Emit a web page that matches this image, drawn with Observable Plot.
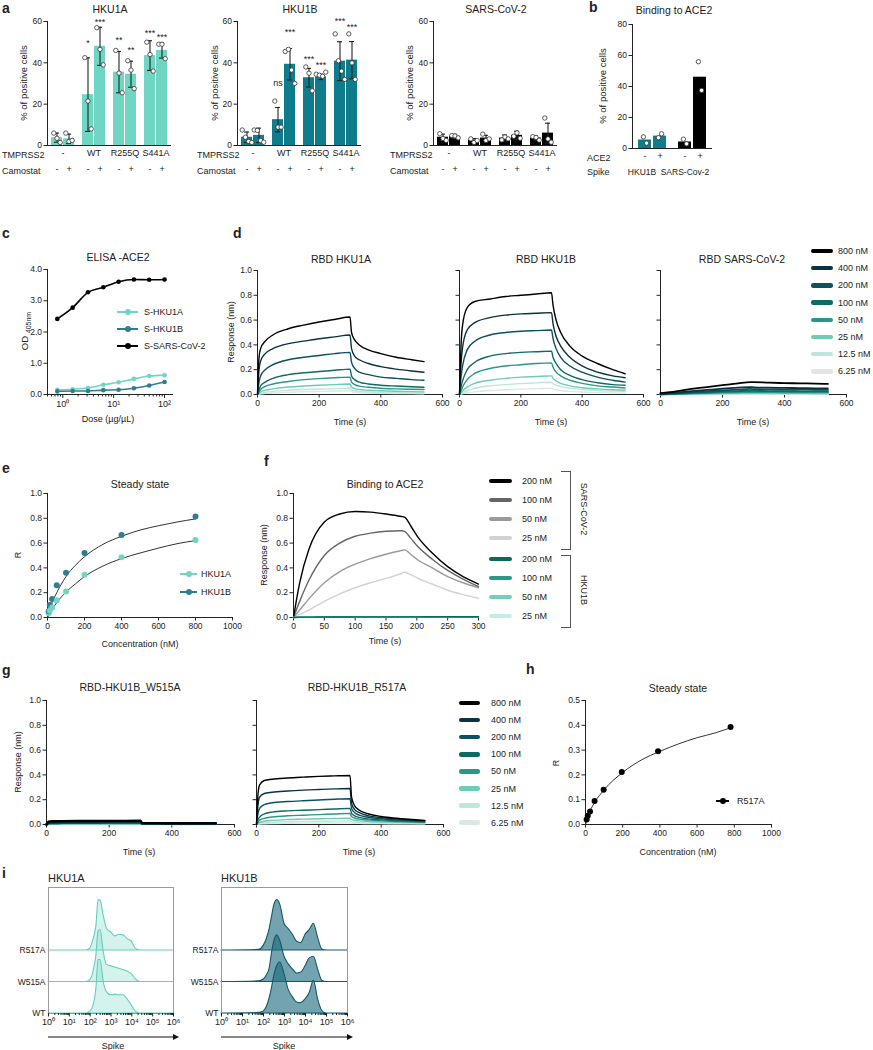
<!DOCTYPE html>
<html>
<head>
<meta charset="utf-8">
<script src="https://cdn.jsdelivr.net/npm/d3@7"></script>
<script src="https://cdn.jsdelivr.net/npm/@observablehq/plot@0.6"></script>
<style>
  html, body { margin: 0; padding: 0; background: #fff; }
  #root { position: relative; width: 873px; height: 1050px; overflow: hidden; font-family: "Liberation Sans", Arial, Helvetica, sans-serif; color: #222; }
  .t { position: absolute; white-space: nowrap; line-height: 1; }
  .sw { position: absolute; }
</style>
</head>
<body>
<div id="root"></div>
<script>
// ================= DATA =================
// ---- panel a ----
const camostat = ["-", "+"];
const tmprss2 = ["-", "WT", "R255Q", "S441A"];
const hku1aMean = [3.8, 3.2, 24.6, 48, 35.5, 34.5, 43.5, 46];
const hku1aSD = [2.2, 2.3, 17.8, 9.2, 10, 6.3, 7.2, 3.7];
const hku1aPts = [[6, 3.5, 1.5], [6, 2, 2.5], [42.5, 21.5, 8], [57, 46.5, 39], [46, 35, 25.5], [41, 36.5, 27.5], [50, 44, 36], [49, 49, 42]];
const hku1aStars = ["", "", "*", "***", "**", "**", "***", "***"];
const hku1aStarY = [0, 0, 49.5, 59.5, 51, 46, 54.5, 52.5];

const hku1bMean = [4, 4.9, 12.5, 39.3, 32.8, 33.2, 40.8, 41.3];
const hku1bSD = [2.5, 3.5, 5.9, 7.6, 4.5, 1.3, 9.4, 9];
const hku1bPts = [[7.5, 4, 2, 1.5], [7.5, 7.3, 2.4, 1.6], [21.5, 8.9, 8.9], [45.5, 46.5, 36.5, 30], [38, 35, 26.5], [34.5, 34, 33.5, 35.5], [54, 41, 36, 32], [54, 40, 32]];
const hku1bStars = ["", "", "ns", "***", "***", "***", "***", "***"];
const hku1bStarY = [0, 0, 30, 55, 41.7, 38.8, 60, 57.4];

const sarsMean = [4, 4.4, 2.4, 3.6, 3.6, 4.9, 3.6, 6];
const sarsSD = [1.5, 1, 1, 1.3, 1.5, 2, 1, 4.8];
const sarsPts = [[5.7, 3.4, 2.5], [4.8, 4.6, 3.7], [3.2, 1.5, 2.4], [5.5, 2.4, 3.2], [2.7, 4.1, 3.2], [4.5, 6.1, 3.5], [4.3, 3.9, 2.6], [13.3, 3.2, 1.6]];

// ---- panel b ----
const ace2 = ["-", "+"];
const spike = ["HKU1B", "SARS-Cov-2"];
const bMean = [5.5, 8, 4.2, 46];
const bPts = [[7.5, 3.5], [7, 9.5], [6, 3], [56, 37.5]];

// ---- panel c ----
const doses = [0.78, 1.56, 3.125, 6.25, 12.5, 25, 50, 100];
const odHKU1A = [0.15, 0.17, 0.21, 0.31, 0.39, 0.5, 0.59, 0.62];
const odHKU1B = [0.1, 0.11, 0.11, 0.14, 0.15, 0.2, 0.29, 0.4];
const odSARS = [2.42, 2.78, 3.27, 3.43, 3.61, 3.68, 3.67, 3.68];
const cNames = ["S-HKU1A", "S-HKU1B", "S-SARS-CoV-2"];

// ---- kinetics (d, g) ----
const concLabels = ["800 nM", "400 nM", "200 nM", "100 nM", "50 nM", "25 nM", "12.5 nM", "6.25 nM"];
const tKin = [0, 5, 10, 25, 50, 100, 150, 200, 250, 300, 305, 315, 330, 360, 400, 450, 500, 540];
const dHKU1A = [
  [0, 0.3, 0.37, 0.43, 0.48, 0.53, 0.56, 0.585, 0.605, 0.625, 0.5, 0.44, 0.4, 0.36, 0.33, 0.3, 0.28, 0.265],
  [0, 0.2, 0.27, 0.33, 0.37, 0.41, 0.43, 0.45, 0.465, 0.48, 0.37, 0.31, 0.28, 0.25, 0.225, 0.205, 0.19, 0.18],
  [0, 0.1, 0.15, 0.2, 0.24, 0.28, 0.3, 0.315, 0.33, 0.34, 0.26, 0.21, 0.18, 0.16, 0.14, 0.13, 0.12, 0.115],
  [0, 0.04, 0.07, 0.1, 0.13, 0.16, 0.175, 0.185, 0.195, 0.205, 0.15, 0.12, 0.1, 0.085, 0.075, 0.068, 0.062, 0.058],
  [0, 0.02, 0.04, 0.065, 0.085, 0.105, 0.12, 0.128, 0.135, 0.14, 0.1, 0.08, 0.068, 0.058, 0.05, 0.045, 0.042, 0.04],
  [0, 0.01, 0.02, 0.035, 0.045, 0.06, 0.068, 0.074, 0.08, 0.085, 0.06, 0.048, 0.04, 0.034, 0.03, 0.026, 0.023, 0.021],
  [0, 0.005, 0.01, 0.018, 0.025, 0.034, 0.04, 0.044, 0.047, 0.05, 0.036, 0.03, 0.025, 0.021, 0.018, 0.015, 0.013, 0.012],
  [0, 0.002, 0.005, 0.009, 0.013, 0.018, 0.022, 0.025, 0.028, 0.03, 0.022, 0.018, 0.015, 0.012, 0.01, 0.008, 0.007, 0.006]
];
const dHKU1B = [
  [0, 0.4, 0.56, 0.7, 0.75, 0.77, 0.79, 0.8, 0.81, 0.82, 0.72, 0.6, 0.5, 0.39, 0.31, 0.25, 0.2, 0.167],
  [0, 0.25, 0.38, 0.52, 0.58, 0.62, 0.64, 0.65, 0.655, 0.66, 0.57, 0.47, 0.39, 0.3, 0.23, 0.18, 0.15, 0.135],
  [0, 0.14, 0.23, 0.36, 0.43, 0.48, 0.5, 0.51, 0.515, 0.52, 0.45, 0.37, 0.3, 0.23, 0.18, 0.14, 0.115, 0.1],
  [0, 0.06, 0.11, 0.2, 0.26, 0.31, 0.33, 0.34, 0.345, 0.35, 0.3, 0.25, 0.2, 0.155, 0.12, 0.095, 0.08, 0.075],
  [0, 0.03, 0.06, 0.12, 0.17, 0.21, 0.23, 0.24, 0.25, 0.255, 0.22, 0.18, 0.15, 0.115, 0.09, 0.07, 0.06, 0.052],
  [0, 0.015, 0.03, 0.06, 0.09, 0.115, 0.13, 0.14, 0.145, 0.15, 0.13, 0.11, 0.09, 0.07, 0.055, 0.045, 0.038, 0.034],
  [0, 0.007, 0.015, 0.03, 0.05, 0.07, 0.08, 0.088, 0.094, 0.1, 0.087, 0.075, 0.063, 0.05, 0.04, 0.032, 0.027, 0.024],
  [0, 0.003, 0.007, 0.014, 0.022, 0.032, 0.038, 0.043, 0.047, 0.05, 0.044, 0.038, 0.032, 0.025, 0.02, 0.016, 0.013, 0.011]
];
const tSars = [0, 50, 100, 150, 200, 250, 290, 300, 350, 400, 450, 500, 540];
const dSARS = [
  [0.01, 0.025, 0.045, 0.06, 0.075, 0.09, 0.1, 0.1, 0.095, 0.092, 0.09, 0.088, 0.085],
  [0.005, 0.015, 0.027, 0.037, 0.047, 0.055, 0.06, 0.058, 0.055, 0.053, 0.052, 0.05, 0.05],
  [0.003, 0.01, 0.018, 0.026, 0.033, 0.04, 0.045, 0.043, 0.041, 0.04, 0.039, 0.038, 0.037],
  [0.002, 0.007, 0.013, 0.018, 0.023, 0.027, 0.03, 0.029, 0.028, 0.027, 0.026, 0.026, 0.025],
  [0.001, 0.005, 0.009, 0.012, 0.015, 0.018, 0.02, 0.019, 0.019, 0.018, 0.018, 0.017, 0.017],
  [0, 0.003, 0.005, 0.007, 0.009, 0.011, 0.012, 0.012, 0.011, 0.011, 0.011, 0.01, 0.01],
  [0, 0.002, 0.003, 0.004, 0.005, 0.006, 0.007, 0.007, 0.006, 0.006, 0.006, 0.006, 0.006],
  [0, 0.001, 0.002, 0.002, 0.003, 0.003, 0.004, 0.004, 0.003, 0.003, 0.003, 0.003, 0.003]
];
const gW515A = [
  [0, 0.02, 0.025, 0.026, 0.027, 0.028, 0.028, 0.029, 0.029, 0.03, 0.012, 0.011, 0.011, 0.011, 0.01, 0.01, 0.01, 0.01],
  [0, 0.012, 0.016, 0.018, 0.019, 0.02, 0.02, 0.021, 0.021, 0.022, 0.01, 0.01, 0.01, 0.01, 0.009, 0.009, 0.009, 0.009],
  [0, 0.01, 0.013, 0.015, 0.016, 0.017, 0.017, 0.018, 0.018, 0.018, 0.009, 0.009, 0.009, 0.009, 0.008, 0.008, 0.008, 0.008],
  [0, 0.008, 0.011, 0.012, 0.013, 0.014, 0.014, 0.015, 0.015, 0.015, 0.008, 0.008, 0.008, 0.008, 0.007, 0.007, 0.007, 0.007],
  [0, 0.006, 0.009, 0.01, 0.011, 0.012, 0.012, 0.012, 0.012, 0.012, 0.007, 0.007, 0.007, 0.007, 0.006, 0.006, 0.006, 0.006],
  [0, 0.005, 0.007, 0.008, 0.009, 0.01, 0.01, 0.01, 0.01, 0.01, 0.006, 0.006, 0.006, 0.006, 0.005, 0.005, 0.005, 0.005],
  [0, 0.004, 0.005, 0.006, 0.007, 0.008, 0.008, 0.008, 0.008, 0.008, 0.005, 0.005, 0.005, 0.005, 0.004, 0.004, 0.004, 0.004],
  [0, 0.003, 0.004, 0.005, 0.005, 0.006, 0.006, 0.006, 0.006, 0.006, 0.004, 0.004, 0.004, 0.004, 0.003, 0.003, 0.003, 0.003]
];
const gR517A = [
  [0, 0.25, 0.32, 0.355, 0.365, 0.375, 0.382, 0.388, 0.392, 0.395, 0.22, 0.15, 0.115, 0.085, 0.065, 0.05, 0.04, 0.033],
  [0, 0.16, 0.22, 0.25, 0.26, 0.27, 0.277, 0.282, 0.287, 0.29, 0.17, 0.12, 0.095, 0.07, 0.055, 0.043, 0.035, 0.03],
  [0, 0.09, 0.13, 0.16, 0.175, 0.185, 0.192, 0.198, 0.204, 0.208, 0.13, 0.095, 0.075, 0.058, 0.046, 0.037, 0.031, 0.027],
  [0, 0.04, 0.06, 0.085, 0.1, 0.11, 0.115, 0.12, 0.125, 0.13, 0.09, 0.07, 0.057, 0.045, 0.037, 0.03, 0.025, 0.022],
  [0, 0.02, 0.035, 0.05, 0.06, 0.07, 0.075, 0.08, 0.085, 0.09, 0.065, 0.052, 0.043, 0.035, 0.029, 0.024, 0.02, 0.018],
  [0, 0.01, 0.017, 0.026, 0.033, 0.04, 0.043, 0.046, 0.048, 0.05, 0.04, 0.034, 0.029, 0.024, 0.02, 0.017, 0.015, 0.013],
  [0, 0.005, 0.009, 0.014, 0.018, 0.022, 0.024, 0.026, 0.027, 0.028, 0.023, 0.02, 0.017, 0.015, 0.012, 0.01, 0.009, 0.008],
  [0, 0.002, 0.004, 0.006, 0.008, 0.01, 0.011, 0.012, 0.012, 0.013, 0.011, 0.01, 0.009, 0.008, 0.007, 0.006, 0.005, 0.005]
];

// ---- panel e ----
const eConc = [6.25, 12.5, 25, 50, 100, 200, 400, 800];
const eHKU1A = [0.035, 0.055, 0.08, 0.14, 0.21, 0.345, 0.485, 0.625];
const eHKU1B = [0.05, 0.1, 0.15, 0.26, 0.36, 0.52, 0.665, 0.815];
const eFitX = [0, 25, 50, 100, 150, 200, 300, 400, 500, 600, 700, 800];
const eFitA = [0, 0.065, 0.12, 0.205, 0.27, 0.33, 0.415, 0.475, 0.52, 0.56, 0.595, 0.62];
const eFitB = [0, 0.12, 0.2, 0.33, 0.42, 0.49, 0.59, 0.655, 0.705, 0.74, 0.77, 0.795];

// ---- panel f ----
const fLabels = ["200 nM", "100 nM", "50 nM", "25 nM"];
const tF = [0, 10, 25, 50, 75, 100, 125, 150, 175, 180, 190, 200, 225, 250, 275, 300];
const fSARS = [
  [0, 0.28, 0.55, 0.77, 0.835, 0.855, 0.85, 0.835, 0.815, 0.81, 0.74, 0.66, 0.52, 0.41, 0.33, 0.27],
  [0, 0.13, 0.3, 0.5, 0.6, 0.655, 0.68, 0.695, 0.7, 0.695, 0.64, 0.58, 0.47, 0.38, 0.31, 0.25],
  [0, 0.06, 0.15, 0.28, 0.37, 0.43, 0.475, 0.51, 0.54, 0.545, 0.51, 0.47, 0.4, 0.33, 0.28, 0.24],
  [0, 0.025, 0.06, 0.13, 0.19, 0.24, 0.28, 0.315, 0.355, 0.365, 0.345, 0.32, 0.27, 0.22, 0.185, 0.155]
];
const fHKU1B = [
  [0, 0.003, 0.003, 0.004, 0.004, 0.005, 0.005, 0.005, 0.005, 0.005, 0.005, 0.005, 0.006, 0.006, 0.006, 0.006],
  [0, 0.002, 0.003, 0.003, 0.004, 0.004, 0.004, 0.004, 0.004, 0.004, 0.004, 0.004, 0.005, 0.005, 0.005, 0.005],
  [0, 0.002, 0.002, 0.003, 0.003, 0.003, 0.003, 0.003, 0.003, 0.003, 0.003, 0.003, 0.004, 0.004, 0.004, 0.004],
  [0, 0.001, 0.002, 0.002, 0.002, 0.002, 0.002, 0.002, 0.002, 0.002, 0.002, 0.002, 0.003, 0.003, 0.003, 0.003]
];

// ---- panel h ----
const hConc = [6.1, 12.2, 24.4, 48.8, 97.5, 195, 390, 780];
const hR517A = [0.02, 0.035, 0.052, 0.095, 0.14, 0.212, 0.295, 0.393];
const hFitX = [0, 25, 50, 100, 200, 300, 400, 500, 600, 700, 780];
const hFitY = [0, 0.055, 0.09, 0.14, 0.21, 0.26, 0.295, 0.325, 0.35, 0.37, 0.39];

// ---- panel i (log10 Spike grid, ridge heights in row units) ----
const flowLog = [0, 1.8, 2.0, 2.15, 2.3, 2.4, 2.5, 2.65, 2.8, 3.0, 3.2, 3.4, 3.6, 3.8, 4.0, 4.2, 4.4, 4.6, 4.8, 5.0, 6.0];
const flowSamples = ["WT", "W515A", "R517A"];
const iHKU1A = {
  WT:    [0, 0, 0.06, 0.22, 0.8, 1.7, 1.7, 1.0, 0.68, 0.58, 0.6, 0.58, 0.58, 0.45, 0.25, 0.05, 0, 0, 0, 0, 0],
  W515A: [0, 0, 0.06, 0.3, 0.85, 1.6, 1.65, 0.95, 0.55, 0.5, 0.46, 0.42, 0.38, 0.33, 0.25, 0.08, 0, 0, 0, 0, 0],
  R517A: [0, 0, 0.06, 0.33, 0.78, 1.6, 1.58, 1.1, 0.7, 0.58, 0.45, 0.5, 0.48, 0.36, 0.28, 0.05, 0, 0, 0, 0, 0]
};
const iHKU1B = {
  WT:    [0, 0.02, 0.06, 0.2, 0.5, 0.8, 1.15, 1.5, 1.62, 1.25, 0.75, 0.52, 0.35, 0.33, 0.45, 0.65, 1.05, 0.45, 0.08, 0, 0],
  W515A: [0, 0.02, 0.07, 0.2, 0.45, 0.9, 1.25, 1.48, 1.3, 0.8, 0.56, 0.4, 0.27, 0.3, 0.5, 0.75, 0.8, 0.4, 0.04, 0, 0],
  R517A: [0, 0.02, 0.14, 0.35, 0.7, 1.05, 1.4, 1.6, 1.45, 0.85, 0.68, 0.5, 0.28, 0.24, 0.5, 0.65, 0.85, 0.4, 0.03, 0, 0]
};

// ---- colours ----
const cHKU1A = "#6fd6c4";
const cHKU1B = "#0f7c8c";
const cHKU1Bline = "#2f7d91";
const concColors = ["#000000", "#09343f", "#0c5061", "#116a62", "#2b9787", "#6fcab6", "#bde6dc", "#dde7e3"];
const fSarsColors = ["#000000", "#666666", "#9a9a9a", "#d2d2d2"];
const fHkuColors = ["#0b6a5e", "#2a998a", "#74ceba", "#c4ece2"];

// ================= HELPERS =================
const root = document.getElementById("root");
const FONT = '"Liberation Sans", Arial, Helvetica, sans-serif';
const INK = "#222";
const sup = ["\u2070", "\u00b9", "\u00b2", "\u00b3", "\u2074", "\u2075", "\u2076"];
const intFmt = d3.format("d");

function text(str, x, y, o = {}) {
  const d = document.createElement("div");
  d.className = "t";
  if (o.html) d.innerHTML = str; else d.textContent = str;
  d.style.left = x + "px";
  d.style.top = y + "px";
  d.style.fontSize = (o.size || 9) + "px";
  if (o.bold) d.style.fontWeight = "bold";
  const a = o.anchor || "middle";
  const tx = a === "start" ? "0" : a === "end" ? "-100%" : "-50%";
  d.style.transform = `translate(${tx}, -50%)` + (o.rotate ? ` rotate(${o.rotate}deg)` : "");
  root.appendChild(d);
}
function box(x, y, w, h, css) {
  const d = document.createElement("div");
  d.className = "sw";
  d.style.left = x + "px"; d.style.top = y + "px";
  d.style.width = w + "px"; d.style.height = h + "px";
  Object.assign(d.style, css);
  root.appendChild(d);
}
function plotAt(x0, y0, x1, y1, m, opts) {
  const [ml, mt, mr, mb] = m;
  const svg = Plot.plot({
    width: ml + (x1 - x0) + mr,
    height: mt + (y1 - y0) + mb,
    marginLeft: ml, marginTop: mt, marginRight: mr, marginBottom: mb,
    style: {fontFamily: FONT, fontSize: "8.5px", color: INK, background: "transparent", overflow: "visible"},
    ...opts
  });
  svg.style.position = "absolute";
  svg.style.left = (x0 - ml) + "px";
  svg.style.top = (y0 - mt) + "px";
  root.appendChild(svg);
  return svg;
}

// ---------- bar panels (a, b) ----------
function barPanel(cfg) {
  const {x0, x1, y0, y1, groups, subs, mean, sd, pts, fill, ymax, yticks, stars, starY,
         subPadInner, subPadOuter, subDy, groupDy} = cfg;
  const rows = mean.map((m, i) => ({
    g: groups[Math.floor(i / 2)], c: subs[i % 2], mean: m,
    sd: sd ? sd[i] : 0, star: stars ? stars[i] : "", starY: starY ? starY[i] : 0,
    fill: typeof fill === "function" ? fill(i) : fill
  }));
  const points = [];
  pts.forEach((arr, i) => arr.forEach((v, k) => points.push({
    g: rows[i].g, c: rows[i].c, v, off: (k - (arr.length - 1) / 2) * 3.2
  })));
  const offs = [...new Set(points.map(p => p.off))];
  const marks = [
    Plot.barY(rows, {fx: "g", x: "c", y: "mean", fill: "fill"}),
  ];
  if (sd) {
    marks.push(
      Plot.ruleX(rows, {fx: "g", x: "c", y1: d => Math.max(0, d.mean - d.sd), y2: d => d.mean + d.sd, stroke: INK, strokeWidth: 1.1}),
      Plot.tickY(rows, {fx: "g", x: "c", y: d => d.mean + d.sd, stroke: INK, strokeWidth: 1.1, insetLeft: 3, insetRight: 3}),
      Plot.tickY(rows.filter(d => d.mean - d.sd > 0), {fx: "g", x: "c", y: d => d.mean - d.sd, stroke: INK, strokeWidth: 1.1, insetLeft: 3, insetRight: 3})
    );
  }
  offs.forEach(off => marks.push(Plot.dot(points.filter(p => p.off === off),
    {fx: "g", x: "c", y: "v", dx: off, r: 2.2, fill: "white", stroke: "#333", strokeWidth: 0.8})));
  if (stars) marks.push(Plot.text(rows.filter(d => d.star), {fx: "g", x: "c", y: "starY", text: "star", fontSize: 9, fill: INK}));
  marks.push(Plot.ruleY([0], {stroke: INK}));
  marks.push(Plot.text(rows, {fx: "g", x: "c", text: "c", frameAnchor: "bottom", dy: subDy, fontSize: 9, fill: INK}));
  if (groupDy != null) marks.push(Plot.text(groups, {fx: d => d, text: d => d, frameAnchor: "bottom", dy: groupDy, fontSize: 9, fill: INK}));
  return plotAt(x0, y0, x1, y1, [24, 6, 6, 34], {
    fx: {domain: groups, padding: 0, axis: null, label: null},
    x: {domain: subs, paddingInner: subPadInner, paddingOuter: subPadOuter, axis: null, label: null},
    y: {domain: [0, ymax], ticks: yticks, tickSize: 3.5, tickPadding: 2, line: true, label: null},
    marks
  });
}

// ---------- kinetic panels (d, g) ----------
function kinetic(x0, x1, y0, y1, times, series, colors, showY, xMax, xticks, sw = 1.4) {
  const rows = [];
  series.forEach((vals, j) => vals.forEach((v, i) => rows.push({t: times[i], v, s: j})));
  const order = series.map((_, j) => j).reverse();
  return plotAt(x0, y0, x1, y1, [26, 6, 8, 22], {
    x: {domain: [0, xMax], ticks: xticks, tickSize: 3.5, tickPadding: 2, line: true, label: null},
    y: {domain: [0, 1], ticks: [0, 0.2, 0.4, 0.6, 0.8, 1], tickFormat: showY ? d3.format(".1f") : () => "", tickSize: 3.5, tickPadding: 2, line: true, label: null},
    marks: order.map(j => Plot.line(rows.filter(r => r.s === j), {x: "t", y: "v", stroke: colors[j], strokeWidth: sw, curve: "monotone-x"}))
  });
}
function legendLines(labels, colors, xs, xe, tx, ys, thick) {
  labels.forEach((lab, k) => {
    box(xs, ys[k] - thick / 2, xe - xs, thick, {background: colors[k], borderRadius: (thick / 2) + "px"});
    text(lab, tx, ys[k], {anchor: "start", size: 9});
  });
}
function legendDots(labels, colors, xs, xe, tx, ys) {
  labels.forEach((lab, k) => {
    box(xs, ys[k] - 1, xe - xs, 2, {background: colors[k]});
    const cx = (xs + xe) / 2;
    box(cx - 3, ys[k] - 3, 6, 6, {background: colors[k], borderRadius: "3px"});
    text(lab, tx, ys[k], {anchor: "start", size: 9});
  });
}

// ================= PANEL LETTERS =================
[["a", 2, 8], ["b", 589, 7], ["c", 2, 233], ["d", 233, 233], ["e", 2, 468], ["f", 264, 461], ["g", 2, 670], ["h", 526, 669], ["i", 2, 873]]
  .forEach(([s, x, y]) => text(s, x, y, {anchor: "start", size: 14, bold: true}));

// ================= PANEL a =================
const aCommon = {groups: tmprss2, subs: camostat, ymax: 60, yticks: [0, 20, 40, 60], subPadInner: 0.12, subPadOuter: 0.3, subDy: 26, groupDy: 10};
barPanel({...aCommon, x0: 47, x1: 171, y0: 21, y1: 145, mean: hku1aMean, sd: hku1aSD, pts: hku1aPts, fill: cHKU1A, stars: hku1aStars, starY: hku1aStarY});
barPanel({...aCommon, x0: 237, x1: 361, y0: 21, y1: 145, mean: hku1bMean, sd: hku1bSD, pts: hku1bPts, fill: cHKU1B, stars: hku1bStars, starY: hku1bStarY});
barPanel({...aCommon, x0: 433, x1: 557, y0: 21, y1: 145, mean: sarsMean, sd: sarsSD, pts: sarsPts, fill: "#000000"});
text("HKU1A", 110, 9, {size: 10.5});
text("HKU1B", 300, 9, {size: 10.5});
text("SARS-CoV-2", 496, 9, {size: 10.5});
[[24, 83], [215, 83], [410, 83]].forEach(([x, y]) => text("% of positive cells", x, y, {rotate: -90, size: 9.5}));
[2, 197, 390].forEach(x => { text("TMPRSS2", x, 155, {anchor: "start"}); text("Camostat", x, 171, {anchor: "start"}); });

// ================= PANEL b =================
barPanel({x0: 631, x1: 712, y0: 24, y1: 148, groups: spike, subs: ace2, mean: bMean, pts: bPts,
  fill: i => (i < 2 ? cHKU1B : "#000000"), ymax: 80, yticks: [0, 20, 40, 60, 80],
  subPadInner: 0.125, subPadOuter: 0.33, subDy: 10, groupDy: null});
text("Binding to ACE2", 674, 10, {size: 10.5});
text("% of positive cells", 603, 86, {rotate: -90, size: 9.5});
text("ACE2", 587, 158, {anchor: "start"});
text("Spike", 587, 172, {anchor: "start"});
text(spike[0], 642, 172, {size: 8.5});
text(spike[1], 685, 172, {size: 8.5});

// ================= PANEL c =================
{
  const rows = [];
  [odHKU1A, odHKU1B, odSARS].forEach((vals, j) => vals.forEach((v, i) => rows.push({dose: doses[i], od: v, s: cNames[j]})));
  const xdom = [0.5, 150];
  const minor = d3.scaleLog().domain(xdom).ticks().filter(t => ![1, 10, 100].includes(t));
  plotAt(47, 269, 173, 394, [24, 6, 8, 22], {
    x: {type: "log", domain: xdom},
    y: {domain: [0, 4], ticks: [0, 1, 2, 3, 4], tickSize: 3.5, tickPadding: 2, line: true, label: null},
    color: {domain: cNames, range: [cHKU1A, cHKU1Bline, "#000000"]},
    marks: [
      Plot.axisX({ticks: [1, 10, 100], tickFormat: d => "10" + sup[Math.round(Math.log10(d))], tickSize: 4, tickPadding: 2, label: null, fontSize: 9}),
      Plot.axisX({ticks: minor, tickFormat: () => "", tickSize: 2.5, label: null}),
      Plot.ruleY([0], {stroke: INK}),
      Plot.line(rows, {x: "dose", y: "od", z: "s", stroke: "s", strokeWidth: 1.6, curve: "monotone-x"}),
      Plot.dot(rows, {x: "dose", y: "od", fill: "s", r: 2.3})
    ]
  });
  text("ELISA -ACE2", 118, 257, {size: 10.5});
  text("OD <sub style='font-size:7px'>405nm</sub>", 26, 331, {rotate: -90, size: 9.5, html: true});
  text("Dose (\u00b5g/\u00b5L)", 108, 419, {size: 9});
  legendDots(cNames, [cHKU1A, cHKU1Bline, "#000000"], 117, 138, 144, [312, 329, 346]);
}

// ================= PANEL d =================
kinetic(257, 442, 270, 394, tKin, dHKU1A, concColors, true, 600, [0, 200, 400, 600]);
kinetic(459, 643, 270, 394, tKin, dHKU1B, concColors, false, 600, [0, 200, 400, 600]);
kinetic(660, 846, 270, 394, tSars, dSARS, concColors, false, 600, [0, 200, 400, 600], 1.8);
text("RBD HKU1A", 341, 259, {size: 10.5});
text("RBD HKU1B", 546, 259, {size: 10.5});
text("RBD SARS-CoV-2", 742, 259, {size: 10.5});
text("Response (nm)", 231, 332, {rotate: -90, size: 9});
[350, 551, 753].forEach(x => text("Time (s)", x, 422, {size: 9}));
legendLines(concLabels, concColors, 811, 833, 838, concLabels.map((_, k) => 251 + k * 17.2), 4.5);

// ================= PANEL e =================
{
  const pts = [];
  eConc.forEach((c, i) => { pts.push({c, r: eHKU1A[i], s: "HKU1A"}); pts.push({c, r: eHKU1B[i], s: "HKU1B"}); });
  const fits = [];
  eFitX.forEach((c, i) => { fits.push({c, r: eFitA[i], s: "A"}); fits.push({c, r: eFitB[i], s: "B"}); });
  plotAt(47, 493, 232, 617, [24, 6, 10, 22], {
    x: {domain: [0, 1000], ticks: [0, 200, 400, 600, 800, 1000], tickFormat: intFmt, tickSize: 3.5, tickPadding: 2, line: true, label: null},
    y: {domain: [0, 1], ticks: [0, 0.2, 0.4, 0.6, 0.8, 1], tickFormat: d3.format(".1f"), tickSize: 3.5, tickPadding: 2, line: true, label: null},
    color: {domain: ["HKU1A", "HKU1B"], range: [cHKU1A, cHKU1Bline]},
    marks: [
      Plot.line(fits, {x: "c", y: "r", z: "s", stroke: "#333", strokeWidth: 1, curve: "monotone-x"}),
      Plot.dot(pts, {x: "c", y: "r", fill: "s", r: 3})
    ]
  });
  text("Steady state", 140, 484, {size: 10.5});
  text("R", 18, 555, {rotate: -90, size: 9});
  text("Concentration (nM)", 140, 644, {size: 9});
  legendDots(["HKU1A", "HKU1B"], [cHKU1A, cHKU1Bline], 180, 197, 201, [574, 592]);
}

// ================= PANEL f =================
{
  const rows = [];
  fHKU1B.forEach((vals, j) => vals.forEach((v, i) => rows.push({t: tF[i], v, s: "h" + j, col: fHkuColors[j]})));
  fSARS.forEach((vals, j) => vals.forEach((v, i) => rows.push({t: tF[i], v, s: "s" + j, col: fSarsColors[j]})));
  const order = ["s3", "s2", "s1", "s0", "h3", "h2", "h1", "h0"];
  plotAt(293, 493, 478, 617, [26, 6, 8, 22], {
    x: {domain: [0, 300], ticks: [0, 50, 100, 150, 200, 250, 300], tickSize: 3.5, tickPadding: 2, line: true, label: null},
    y: {domain: [0, 1], ticks: [0, 0.2, 0.4, 0.6, 0.8, 1], tickFormat: d3.format(".1f"), tickSize: 3.5, tickPadding: 2, line: true, label: null},
    marks: order.map(s => Plot.line(rows.filter(r => r.s === s), {x: "t", y: "v", stroke: "col", strokeWidth: 1.4, curve: "monotone-x"}))
  });
  text("Binding to ACE2", 385, 484, {size: 10.5});
  text("Response (nm)", 264, 555, {rotate: -90, size: 9});
  text("Time (s)", 385, 641, {size: 9});
  const ys = [481, 500, 519, 538, 559, 578, 597, 616];
  legendLines(fLabels, fSarsColors, 489, 512, 522, ys.slice(0, 4), 4);
  legendLines(fLabels, fHkuColors, 489, 512, 522, ys.slice(4), 4);
  box(561, 471, 9, 77, {borderTop: "1px solid #555", borderRight: "1px solid #555", borderBottom: "1px solid #555"});
  box(561, 555, 9, 71, {borderTop: "1px solid #555", borderRight: "1px solid #555", borderBottom: "1px solid #555"});
  text("SARS-CoV-2", 583, 509, {rotate: 90, size: 9});
  text("HKU1B", 583, 590, {rotate: 90, size: 9});
}

// ================= PANEL g =================
kinetic(46, 234, 700, 824, tKin, gW515A, concColors, true, 600, [0, 200, 400, 600], 2.4);
kinetic(256, 443, 700, 824, tKin, gR517A, concColors, false, 600, [0, 200, 400, 600]);
text("RBD-HKU1B_W515A", 130, 687, {size: 10.5});
text("RBD-HKU1B_R517A", 357, 687, {size: 10.5});
text("Response (nm)", 18, 762, {rotate: -90, size: 9});
text("Time (s)", 139, 852, {size: 9});
text("Time (s)", 359, 852, {size: 9});
legendLines(concLabels, concColors, 459, 480, 491, concLabels.map((_, k) => 703 + k * 17.1), 4.5);

// ================= PANEL h =================
{
  const pts = hConc.map((c, i) => ({c, r: hR517A[i]}));
  const fit = hFitX.map((c, i) => ({c, r: hFitY[i]}));
  plotAt(585, 700, 771, 824, [26, 6, 10, 22], {
    x: {domain: [0, 1000], ticks: [0, 200, 400, 600, 800, 1000], tickFormat: intFmt, tickSize: 3.5, tickPadding: 2, line: true, label: null},
    y: {domain: [0, 0.5], ticks: [0, 0.1, 0.2, 0.3, 0.4, 0.5], tickFormat: d3.format(".1f"), tickSize: 3.5, tickPadding: 2, line: true, label: null},
    marks: [
      Plot.line(fit, {x: "c", y: "r", stroke: "#333", strokeWidth: 1, curve: "monotone-x"}),
      Plot.dot(pts, {x: "c", y: "r", fill: "#000", r: 3})
    ]
  });
  text("Steady state", 678, 688, {size: 10.5});
  text("R", 556, 763, {rotate: -90, size: 9});
  text("Concentration (nM)", 678, 852, {size: 9});
  legendDots(["R517A"], ["#000"], 716, 729, 737, [801]);
}

// ================= PANEL i =================
function flowPanel(x0, x1, prof, fill, fillOpacity, stroke) {
  const y0 = 887, y1 = 1013;
  const order = ["R517A", "W515A", "WT"];
  const marks = order.map(s => {
    const r = flowSamples.indexOf(s);
    const rows = flowLog.map((L, i) => ({x: Math.pow(10, L), y1: r, y2: r + prof[s][i]}));
    return Plot.areaY(rows, {x: "x", y1: "y1", y2: "y2", fill, fillOpacity, stroke, strokeWidth: 1.1, curve: "monotone-x"});
  });
  const majors = [1, 10, 100, 1e3, 1e4, 1e5, 1e6];
  const minor = d3.scaleLog().domain([1, 1e6]).ticks().filter(t => !majors.includes(t));
  plotAt(x0, y0, x1, y1, [40, 4, 8, 22], {
    x: {type: "log", domain: [1, 1e6]},
    y: {domain: [0, 4], ticks: [0, 1, 2], tickFormat: i => flowSamples[i], tickSize: 0, tickPadding: 3, label: null},
    marks: [
      ...marks,
      Plot.frame({stroke: "#9a9a9a"}),
      Plot.axisX({ticks: majors, tickFormat: d => "10" + sup[Math.round(Math.log10(d))], tickSize: 3.5, tickPadding: 2, label: null, fontSize: 9}),
      Plot.axisX({ticks: minor, tickFormat: () => "", tickSize: 2, label: null})
    ]
  });
}
flowPanel(48, 173, iHKU1A, cHKU1A, 0.3, "#62cfbc");
flowPanel(221, 347, iHKU1B, "#1c6a7c", 0.62, "#14586a");
text("HKU1A", 48, 878, {anchor: "start", size: 11});
text("HKU1B", 221, 878, {anchor: "start", size: 11});
text("Spike", 113, 1046, {size: 9});
text("Spike", 284, 1046, {size: 9});
[[48, 178], [221, 352]].forEach(([a, b]) => {
  const ns = "http://www.w3.org/2000/svg";
  const s = document.createElementNS(ns, "svg");
  s.setAttribute("width", b - a + 2); s.setAttribute("height", 8);
  s.style.position = "absolute"; s.style.left = a + "px"; s.style.top = (1037 - 4) + "px";
  const l = document.createElementNS(ns, "line");
  l.setAttribute("x1", 0); l.setAttribute("x2", b - a - 4); l.setAttribute("y1", 4); l.setAttribute("y2", 4);
  l.setAttribute("stroke", "#111"); l.setAttribute("stroke-width", 1.2);
  const p = document.createElementNS(ns, "path");
  p.setAttribute("d", `M${b - a - 5},1 L${b - a + 1},4 L${b - a - 5},7 Z`);
  p.setAttribute("fill", "#111");
  s.appendChild(l); s.appendChild(p);
  root.appendChild(s);
});
</script>
</body>
</html>
